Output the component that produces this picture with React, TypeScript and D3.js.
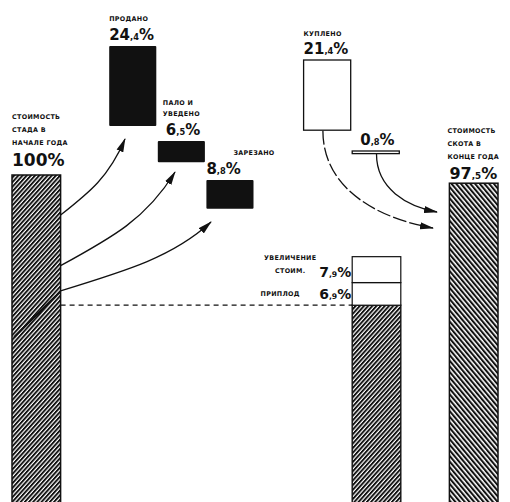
import * as d3 from "d3";

// values, in % of the herd value at the start of the year
const START_LABEL = ["СТОИМОСТЬ", "СТАДА В", "НАЧАЛЕ ГОДА"];
const START_VALUE = 100;
const END_LABEL = ["СТОИМОСТЬ", "СКОТА В", "КОНЦЕ ГОДА"];
const END_VALUE = 97.5;

const OUT_LABELS = [["ПРОДАНО"], ["ПАЛО И", "УВЕДЕНО"], ["ЗАРЕЗАНО"]];
const OUT_VALUES = [24.4, 6.5, 8.8];

const IN_LABELS = [["КУПЛЕНО"], []];
const IN_VALUES = [21.4, 0.8];

const GROWTH_LABELS = [["ПРИПЛОД"], ["УВЕЛИЧЕНИЕ", "СТОИМ."]];
const GROWTH_VALUES = [6.9, 7.9];

// layout only
const W = 510;
const H = 502;
const OUT_SLOTS = [2, 3, 4];
const OUT_TOPS = [46, 141, 180];
const OUT_LABEL_DX = [0, 5, 27];
const IN_SLOTS = [6, 7];
const IN_TOPS = [60, 151];
const IN_NUM_DX = [0, 8];
const OUT_TIPS = [[125, 139], [175, 172], [211, 222]];
const IN_TIPS = [[433, 228], [437, 212]];
const GROWTH_LABEL_DX = [72, 62];

const INK = "#111";
const FONT = "DejaVu Sans, sans-serif";

const x = d3.scaleBand<number>().domain(d3.range(10)).range([12, 498]);
const y = d3.scaleLinear().domain([0, 100]).range([503, 175]);
const h = (v: number) => y(0) - y(v);

function Pct({ px, py, value, size, anchor = "start" }: { px: number; py: number; value: number; size: number; anchor?: string }) {
  const [whole, dec] = String(value).split(".");
  return (
    <text x={px} y={py} fontFamily={FONT} fontWeight="bold" fontSize={size} textAnchor={anchor} fill={INK}>
      {whole}
      {dec ? <tspan fontSize={size * 0.55}>,{dec}</tspan> : null}
      <tspan fontSize={size}>%</tspan>
    </text>
  );
}

function Label({ px, bottom, lines, gap = 12, anchor = "start" }: { px: number; bottom: number; lines: string[]; gap?: number; anchor?: string }) {
  return (
    <g>
      {lines.map((l, i) => (
        <text
          key={i}
          x={px}
          y={bottom - (lines.length - 1 - i) * gap}
          fontFamily={FONT}
          fontWeight="bold"
          fontSize={6.4}
          letterSpacing={0.3}
          textAnchor={anchor}
          fill={INK}
        >
          {l}
        </text>
      ))}
    </g>
  );
}

function curveUp(x0: number, y0: number, x1: number, y1: number) {
  const dx = x1 - x0;
  const dy = y0 - y1;
  const p = d3.path();
  p.moveTo(x0, y0);
  p.bezierCurveTo(x0 + 0.45 * dx, y0 - 0.3 * dy, x1 - 0.25 * dx, y1 + 0.5 * dy, x1, y1);
  return p.toString();
}

function curveDown(x0: number, y0: number, x1: number, y1: number) {
  const dx = x1 - x0;
  const dy = y1 - y0;
  const p = d3.path();
  p.moveTo(x0, y0);
  p.bezierCurveTo(x0, y0 + 0.6 * dy, x1 - 0.5 * dx, y1 - 0.1 * dy, x1, y1);
  return p.toString();
}

export default function App() {
  const bw = x.bandwidth();
  const leftX = x(0)!;
  const midX = x(7)!;
  const rightX = x(9)!;

  // outflows stacked from the top of the start column
  const outCum = OUT_VALUES.map((_, i) => d3.sum(OUT_VALUES.slice(0, i)));
  const remain = START_VALUE - d3.sum(OUT_VALUES);
  const levelY = y(remain);

  const growthCum = GROWTH_VALUES.map((_, i) => remain + d3.sum(GROWTH_VALUES.slice(0, i)));

  return (
    <div style={{ position: "absolute", left: 0, top: 0 }}>
      <svg width={W} height={H} style={{ display: "block", background: "#fff" }}>
        <defs>
          <pattern id="hatchA" patternUnits="userSpaceOnUse" width={3.1} height={3.1} patternTransform="rotate(42)">
            <rect width={3.1} height={3.1} fill="#fff" />
            <line x1={0.9} y1={0} x2={0.9} y2={3.1} stroke={INK} strokeWidth={2} />
          </pattern>
          <pattern id="hatchB" patternUnits="userSpaceOnUse" width={3.6} height={3.6} patternTransform="rotate(-40)">
            <rect width={3.6} height={3.6} fill="#fff" />
            <line x1={1} y1={0} x2={1} y2={3.6} stroke={INK} strokeWidth={2.1} />
          </pattern>
          <marker id="head" viewBox="0 -4 14 8" markerWidth={14} markerHeight={8} refX={13} refY={0} orient="auto" markerUnits="userSpaceOnUse">
            <path d="M0,-3.6 L14,0 L0,3.6 Z" fill={INK} />
          </marker>
        </defs>

        {/* start column */}
        <rect x={leftX} y={y(START_VALUE)} width={bw} height={h(START_VALUE) + 4} fill="url(#hatchA)" stroke={INK} strokeWidth={1.5} />
        <line x1={leftX + bw - 1} y1={levelY - 13} x2={leftX + 2} y2={levelY + 32} stroke={INK} strokeWidth={2} />
        <Label px={leftX} bottom={y(START_VALUE) - 30} lines={START_LABEL} gap={13} />
        <Pct px={leftX} py={y(START_VALUE) - 9} value={START_VALUE} size={17} />

        {/* level after outflows */}
        <line x1={leftX + bw} x2={midX} y1={levelY} y2={levelY} stroke={INK} strokeWidth={1.3} strokeDasharray="5 4" />

        {/* outflows */}
        {OUT_VALUES.map((v, i) => {
          const bx = x(OUT_SLOTS[i])!;
          const top = OUT_TOPS[i];
          const startY = y(START_VALUE) + h(outCum[i] + v / 2);
          return (
            <g key={i}>
              <rect x={bx} y={top} width={bw - 1.5} height={h(v)} fill={INK} rx={1} />
              <Pct px={bx + (i === 1 ? 8 : 0)} py={top - 6} value={v} size={15} />
              <Label px={bx + OUT_LABEL_DX[i]} bottom={top - 25} lines={OUT_LABELS[i]} gap={11} />
              <path d={curveUp(leftX + bw, startY, OUT_TIPS[i][0], OUT_TIPS[i][1])} fill="none" stroke={INK} strokeWidth={1.3} markerEnd="url(#head)" />
            </g>
          );
        })}

        {/* inflows */}
        {IN_VALUES.map((v, i) => {
          const bx = x(IN_SLOTS[i])!;
          const top = IN_TOPS[i];
          const hh = h(v);
          return (
            <g key={i}>
              <rect x={bx} y={top} width={bw - 1.5} height={hh} fill="#fff" stroke={INK} strokeWidth={1.3} />
              <Pct px={bx + IN_NUM_DX[i]} py={top - 6} value={v} size={15} />
              <Label px={bx} bottom={top - 24} lines={IN_LABELS[i]} />
              <path
                d={curveDown(bx + bw / 2 - (i === 0 ? 5 : 0), top + hh + 0.5, IN_TIPS[i][0], IN_TIPS[i][1])}
                fill="none"
                stroke={INK}
                strokeWidth={1.3}
                strokeDasharray={i === 0 ? "14 3" : undefined}
                markerEnd="url(#head)"
              />
            </g>
          );
        })}

        {/* middle column: what is left, plus growth */}
        <rect x={midX} y={levelY} width={bw} height={h(remain) + 4} fill="url(#hatchA)" stroke={INK} strokeWidth={1.4} />
        {GROWTH_VALUES.map((v, i) => {
          const top = y(growthCum[i] + v);
          const bottom = y(growthCum[i]);
          return (
            <g key={i}>
              <rect x={midX} y={top} width={bw} height={bottom - top} fill="#fff" stroke={INK} strokeWidth={1.2} />
              <Pct px={midX - 1} py={bottom - 6} value={v} size={14} anchor="end" />
              <Label px={midX - GROWTH_LABEL_DX[i]} bottom={bottom - (i === 0 ? 9 : 10)} lines={GROWTH_LABELS[i]} gap={13} anchor="middle" />
            </g>
          );
        })}

        {/* end column */}
        <rect x={rightX} y={y(END_VALUE)} width={bw} height={h(END_VALUE) + 4} fill="url(#hatchB)" stroke={INK} strokeWidth={1.5} />
        <Label px={rightX - 2} bottom={y(END_VALUE) - 24} lines={END_LABEL} gap={13} />
        <Pct px={rightX} py={y(END_VALUE) - 4} value={END_VALUE} size={16} />
      </svg>
    </div>
  );
}
